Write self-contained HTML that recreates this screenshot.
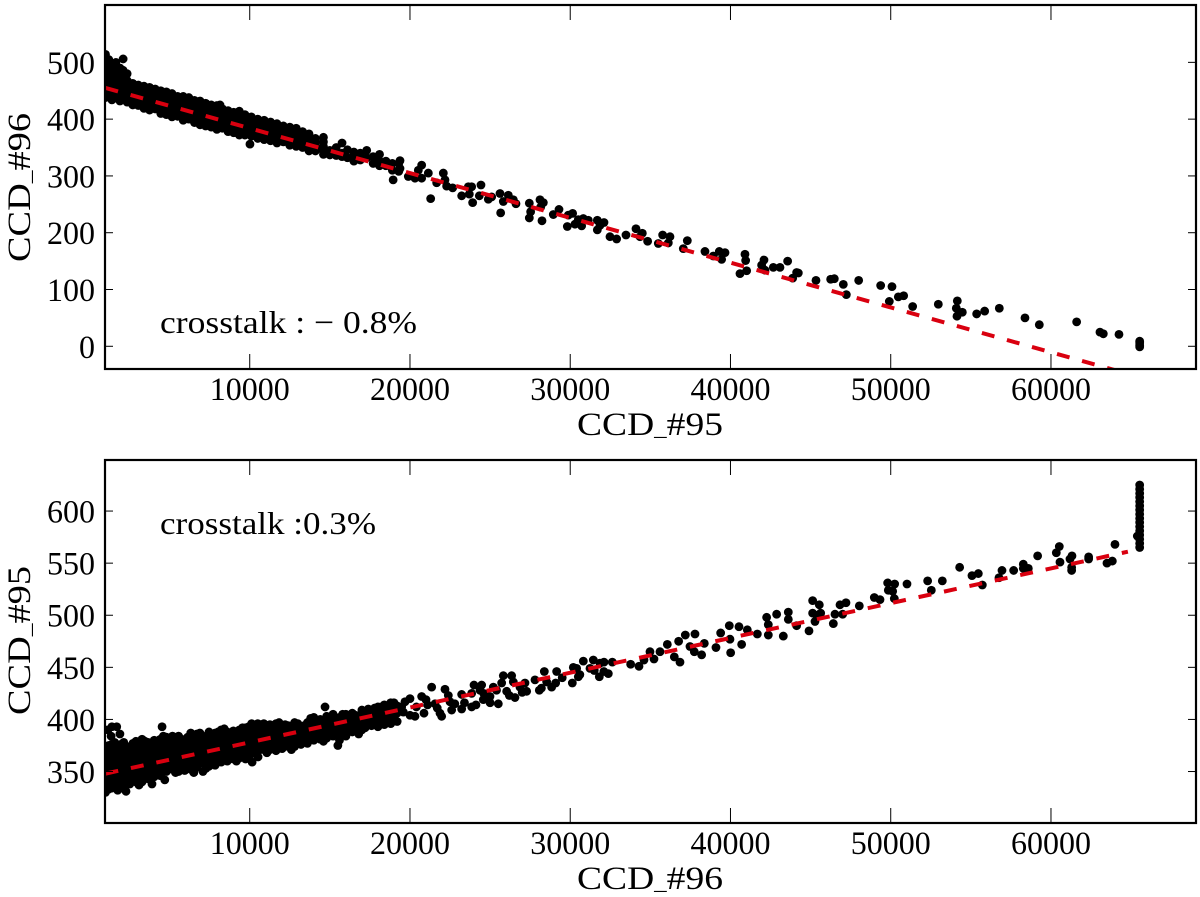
<!DOCTYPE html>
<html lang="en">
<head>
<meta charset="utf-8">
<title>CCD crosstalk</title>
<style>
html,body{margin:0;padding:0;background:#fff;}
svg{display:block;}
text{font-family:"Liberation Serif",serif;fill:#000;}
</style>
</head>
<body>
<svg id="chart" xmlns="http://www.w3.org/2000/svg" width="1200" height="897" viewBox="0 0 1200 897">
<defs>
<clipPath id="clip-top"><rect x="105" y="5" width="1091" height="364"/></clipPath>
<clipPath id="clip-bottom"><rect x="105" y="460" width="1091" height="363"/></clipPath>
</defs>
<g id="panel-top"></g>
<g id="panel-bottom"></g>
<text x="577" y="435" font-size="33" textLength="146" lengthAdjust="spacingAndGlyphs">CCD<tspan font-size="22">_</tspan>#95</text>
<text transform="translate(30,262) rotate(-90)" font-size="33" textLength="149" lengthAdjust="spacingAndGlyphs">CCD<tspan font-size="22">_</tspan>#96</text>
<text x="577" y="889" font-size="33" textLength="146" lengthAdjust="spacingAndGlyphs">CCD<tspan font-size="22">_</tspan>#96</text>
<text transform="translate(30,715) rotate(-90)" font-size="33" textLength="149" lengthAdjust="spacingAndGlyphs">CCD<tspan font-size="22">_</tspan>#95</text>
<text x="160" y="333" font-size="32" textLength="257" lengthAdjust="spacingAndGlyphs">crosstalk : − 0.8%</text>
<text x="160" y="534" font-size="32" textLength="216" lengthAdjust="spacingAndGlyphs">crosstalk :0.3%</text>
</svg>
<script>
const xTicks = [10000, 20000, 30000, 40000, 50000, 60000];
const topYTicks = [0, 100, 200, 300, 400, 500];
const bottomYTicks = [350, 400, 450, 500, 550, 600];

const topFitX = [1000, 65000];
const topFitY = [455, -50];
const bottomFitX = [1000, 64800];
const bottomFitY = [348, 561];

const topX = [
1000,1000,1000,1000,1000,1000,1000,
1200,1200,1200,1200,1200,1200,
1400,1400,1400,1400,1400,1400,
1650,1650,1650,1650,1650,1650,
1900,1900,1900,1900,1900,1900,
2100,2100,2100,2100,2100,2100,
2350,2350,2350,2350,2350,
2700,2700,2700,3050,3050,3050,3400,3400,3400,
3750,3750,3750,4100,4100,4100,4450,4450,4450,
4800,4800,4800,5150,5150,5150,5500,5500,5500,
5850,5850,5850,6200,6200,6200,6550,6550,6550,
6900,6900,6900,7250,7250,7250,7600,7600,7600,
7950,7950,7950,8300,8300,8300,8650,8650,8650,
9000,9000,9000,9350,9350,9350,9700,9700,9700,
10015,8145,
10100,10100,10100,10500,10500,10500,10900,10900,10900,
11300,11300,11300,11700,11700,11700,12100,12100,12100,
12500,12500,12500,12900,12900,12900,13300,13300,13300,
13700,13700,13700,14100,14100,14100,14600,14600,14600,
15000,15000,15400,15400,15760,15760,15760,16100,16100,
16500,16500,16500,16900,16900,17300,17300,17700,17700,
18100,18100,18100,18500,18500,18900,18900,19300,19300,18950,
19377,19377,19897,20313,20521,20729,20729,21145,21291,21665,
22081,22185,22289,22663,23225,23641,23703,23911,23849,24327,
24431,24889,25097,25659,25617,25825,26137,26449,26615,27447,
27447,27530,28113,28321,28238,28155,28945,29299,29881,30151,
29819,30297,30713,30817,30505,31129,31691,31691,31857,32107,
32481,32897,33479,34103,34353,34499,34831,35497,35767,36121,
36225,37057,37307,38409,38929,39303,39657,39449,40905,40947,
40593,41009,42091,41945,42153,42673,43089,43567,44129,43881,
44234,45336,46252,46480,47042,47229,48000,49372,50079,49912,
50474,50807,51368,52970,54156,54093,54468,54135,55362,55861,
56776,58378,59272,61602,63058,63266,64244,65535,65535,65535,65535,
2700,2700,3050,3050,3400,3400,3750,3750,4100,4100,
4450,4450,4800,4800,5150,5150,5500,5500,5850,5850,
6200,6200,6550,6550,6900,6900,7250,7250,7600,7600,
7950,7950,8300,8300,8650,8650,9000,9000,9350,9350,
9700,9700,10100,10100,10500,10500,10900,10900,11300,11300,
11700,11700,12100,12100,12500,12500,12900,12900,13300,13300,
13700,13700,14100,14100,14600,14600
];
const topY = [
514,500,488,475,462,450,438,
505,492,478,465,452,440,
497,484,470,458,445,434,
500,488,475,462,450,437,
490,478,465,452,440,432,
506,486,472,460,448,436,
480,468,455,442,430,
463,445,425,460,442,424,458,438,419,
456,436,416,453,434,418,450,428,410,
448,426,408,445,424,404,440,420,405,
440,418,398,438,416,400,433,412,394,
432,410,390,428,408,388,425,404,386,
424,402,382,418,398,384,415,396,378,
412,394,376,414,390,372,408,388,372,
356,425,
404,385,370,400,382,366,398,380,364,
395,378,362,392,375,358,388,372,360,
386,368,354,384,366,352,378,362,350,
374,356,344,366,352,344,368,352,338,
345,337,350,336,358,340,334,346,332,
342,336,326,340,328,345,332,334,322,
338,326,318,326,318,322,310,322,308,293,
327,313,299,296,310,319,296,305,260,288,
305,293,282,279,265,281,268,253,281,265,
284,259,263,235,269,255,266,258,251,226,
252,237,258,253,221,245,232,241,231,234,
211,215,212,225,223,222,222,205,213,218,
193,189,196,207,193,199,185,181,196,182,
193,172,186,167,159,167,165,153,162,151,
128,133,152,143,134,139,139,150,130,120,
129,116,118,119,109,91,116,107,105,79,
87,89,70,74,80,67,60,53,57,62,
67,50,38,43,25,22,21,9,6,2,-1,
454,434,451,433,448,428,446,426,443,426,
439,419,437,417,434,414,430,412,429,408,
427,408,422,403,421,400,418,398,414,395,
413,392,408,391,405,387,403,385,402,381,
398,380,394,377,391,374,389,372,386,370,
383,366,380,366,377,361,375,359,370,356,
365,350,359,348,360,345
];

const bottomX = [
1000,1000,1000,1000,1000,1000,1000,
1380,1380,1380,1380,1380,1380,1380,
1760,1760,1760,1760,1760,1760,1760,
2140,2140,2140,2140,2140,2140,2140,
2520,2520,2520,2520,2520,2520,
2900,2900,2900,2900,2900,2900,2900,
3280,3280,3280,3280,3280,3280,3280,
3660,3660,3660,3660,3660,3660,
4040,4040,4040,4040,4040,4040,
4420,4420,4420,4420,4420,4420,
4800,4800,4800,4800,4800,4800,
5180,5180,5180,5180,5180,5180,
5560,5560,5560,5560,5560,5560,
5940,5940,5940,5940,5940,
6320,6320,6320,6320,6320,6320,
6700,6700,6700,6700,6700,6700,
7080,7080,7080,7080,7080,7080,
7460,7460,7460,7460,7460,7460,
7840,7840,7840,7840,7840,7840,
8220,8220,8220,8220,8220,8220,
8600,8600,8600,8600,8600,
8980,8980,8980,8980,8980,
9360,9360,9360,9360,9360,
9740,9740,9740,9740,9740,9740,
10120,10120,10120,10120,10120,
10500,10500,10500,10500,10500,
10880,10880,10880,10880,10880,
11260,11260,11260,11260,11260,
11640,11640,11640,11640,11640,
12020,12020,12020,12020,
12400,12400,12400,12400,
12800,12800,12800,12800,
13200,13200,13200,
13600,13600,13600,13600,
14000,14000,14000,14000,
14400,14400,14400,14400,
14800,14800,14800,14800,
15200,15200,15200,15200,
15600,15600,15600,15600,
16000,16000,16000,16000,
16400,16400,16400,16400,
16800,16800,16800,
17200,17200,17200,
17600,17600,17600,
18000,18000,18000,18000,
18400,18400,18400,18400,
18800,18800,18800,18800,
19200,19200,19200,
1150,1400,1700,1350,1900,4530,14700,10150,10520,15500,3900,2280,4700,
19481,19689,20001,19585,20001,20313,20729,20999,20875,21353,
21561,21873,21977,22185,22393,22497,22601,23225,23225,23849,
24119,23995,23849,24369,24473,24577,24993,25201,25513,25825,
25721,26033,26345,26449,26553,26865,27177,27281,27801,28071,
28383,28529,28841,29153,29091,30131,30193,30505,30817,30401,
31233,31441,31857,31815,32377,32627,32107,33771,34291,34603,
34977,35227,35601,36059,36495,36849,36765,37182,37785,37473,
37743,38201,38367,39095,39387,39927,40011,40531,40697,39969,
41051,41675,42257,42881,42361,42361,43609,43609,43297,44129,
44900,45128,45128,45274,45544,45628,45378,46418,46522,46834,
47000,47208,48040,48976,49330,49808,49850,50120,50245,50224,
51015,52304,52533,53220,54301,55071,55466,55716,56756,56943,
57671,58274,58274,58586,59168,60333,60520,60562,61186,61311,
61290,61290,62351,62351,63495,63828,63994,65388,
65535,65535,65535,65535,65535,65535,65535,65535,
65535,65535,65535,65535,65535,65535,65535,65535,
1190,1190,1190,1190,1190,1190,1190,
1570,1570,1570,1570,1570,1570,1570,
1950,1950,1950,1950,1950,1950,1950,
2330,2330,2330,2330,2330,2330,
2710,2710,2710,2710,2710,2710,
3090,3090,3090,3090,3090,3090,3090,
3470,3470,3470,3470,3470,3470,
3850,3850,3850,3850,3850,
4230,4230,4230,4230,4230,
4610,4610,4610,4610,4610,4610,
4990,4990,4990,4990,4990,
5370,5370,5370,5370,5370,5370,
5750,5750,5750,5750,5750,
6130,6130,6130,6130,6130,
6510,6510,6510,6510,6510,6510,
6890,6890,6890,6890,6890,
7270,7270,7270,7270,7270,
7650,7650,7650,7650,7650,
8030,8030,8030,8030,8030,
8410,8410,8410,8410,8410,
8790,8790,8790,8790,
9170,9170,9170,9170,9170,
9550,9550,9550,9550,9550,
9930,9930,9930,9930,9930,
10310,10310,10310,10310,
10690,10690,10690,10690,
11070,11070,11070,11070,11070,
11450,11450,11450,11450,
11830,11830,11830,11830,
12210,12210,12210,12210,
12600,12600,12600,12600,
13000,13000,13000,13000,
13400,13400,13400,
13800,13800,13800,13800,
14200,14200,14200,
14600,14600,14600,14600,
15000,15000,15000,
15400,15400,15400,
15800,15800,15800,15800,
16200,16200,16200,
16600,16600,16600,
17000,17000,17000,17000,
17400,17400,17400,
17800,17800,17800,
18200,18200,18200,
18600,18600,18600,
19000,19000,19000,
20400,21100,21700,22800,23400,24600,25000,25400,26200,27000,
28200,29500,30600,31500,32100
];
const bottomY = [
330,337,344,351,358,365,372,
334,341,348,355,362,369,376,
332,339,346,353,360,367,374,
336,343,350,357,364,371,378,
338,345,352,359,366,373,
340,347,354,361,368,375,379,
340,347,354,361,368,375,381,
343,350,357,364,371,378,
345,352,359,366,373,380,
346,353,360,367,374,381,
350,357,364,371,378,383,
352,358,365,372,379,384,
350,356,363,370,377,384,
351,358,365,372,379,
352,360,367,374,381,387,
354,361,368,375,382,386,
350,358,365,372,379,384,
355,362,369,376,383,388,
356,363,370,377,384,387,
359,366,373,380,387,390,
360,367,374,381,388,
362,369,376,383,389,
363,370,377,384,390,
362,369,376,383,389,392,
367,374,381,388,396,
369,376,383,390,396,
371,378,385,392,396,
371,378,385,392,395,
370,377,384,391,396,
372,379,386,393,
374,381,388,394,
374,382,389,397,
376,384,391,
377,384,391,397,
380,387,394,402,
381,388,395,400,
382,389,396,403,
384,391,398,405,
380,388,395,402,
384,392,399,405,
388,395,402,406,
386,394,401,
392,399,407,
394,401,408,
393,400,407,412,
395,402,409,414,
396,404,411,416,
398,406,413,
390,393,393,384,386,393,412,359,364,375,338,331,342,
412,417,420,407,404,403,422,419,406,431,
415,406,403,429,423,417,409,424,410,412,
414,433,425,428,433,419,422,431,415,442,
435,427,442,436,421,431,435,427,438,428,
446,436,431,446,435,435,450,441,456,449,
449,457,454,441,444,455,455,453,451,457,
465,458,465,472,460,455,475,481,482,470,
465,462,473,469,483,490,464,489,472,477,
486,482,498,501,491,481,503,496,480,490,
485,514,502,494,510,502,500,492,501,510,
501,512,509,517,515,531,524,523,530,516,
530,533,524,533,546,538,540,529,536,543,
543,549,545,545,557,560,566,551,554,557,
546,543,556,554,550,552,568,576,
565,569,573,577,581,585,589,593,
597,601,605,609,613,617,621,625,
333,340,347,354,361,368,375,
336,343,350,357,364,371,378,
334,341,348,355,362,369,376,
339,346,353,360,367,374,
342,349,356,363,370,377,
337,344,351,358,365,372,378,
344,351,358,365,372,379,
348,355,362,369,376,
349,356,363,370,377,
350,357,364,371,378,384,
354,361,368,375,381,
349,354,361,368,375,382,
353,360,367,374,381,
355,362,369,376,383,
349,357,364,371,378,384,
358,365,372,379,387,
353,361,368,375,382,
359,366,373,380,386,
360,367,374,381,388,
363,370,377,384,391,
365,372,379,386,
360,366,373,380,387,
366,373,380,387,392,
365,372,379,386,393,
372,379,386,393,
374,381,388,395,
368,375,382,389,394,
374,381,388,393,
374,381,388,397,
376,383,390,395,
371,378,385,392,
378,386,393,396,
380,387,394,
381,388,395,401,
384,391,398,
379,385,392,399,
387,394,401,
386,393,400,
385,392,399,405,
390,397,404,
392,399,404,
390,397,404,409,
396,403,410,
398,405,411,
398,405,412,
400,407,413,
402,409,416,
412,414,411,415,416,425,416,428,423,426,
430,440,443,447,446
];

const SVG_NS = 'http://www.w3.org/2000/svg';
const xDomain = [1000, 69050];
const xRange = [105.5, 1196];
function axisX(v) {
  return xRange[0] + (v - xDomain[0]) * (xRange[1] - xRange[0]) / (xDomain[1] - xDomain[0]);
}
function makeAxisY(dMin, dMax, pxBottom, pxTop) {
  return function (v) {
    return pxBottom - (v - dMin) * (pxBottom - pxTop) / (dMax - dMin);
  };
}
function node(tag, attrs, parent) {
  const el = document.createElementNS(SVG_NS, tag);
  for (const k in attrs) el.setAttribute(k, attrs[k]);
  parent.appendChild(el);
  return el;
}

function drawPanel(parent, clipId, top, bottom, axisY, yTicks, xs, ys, fitX, fitY) {
  const left = 105, right = 1196, tickLen = 15;

  const points = node('g', {'clip-path': 'url(#' + clipId + ')'}, parent);
  
  
  const n = Math.min(xs.length, ys.length);
  for (let i = 0; i < n; i++) {
    const c = node('circle', {cx: axisX(xs[i]), cy: axisY(ys[i]), r: 4.4, fill: '#000'}, points);
    
    
  }

  const fit = node('line', {
    x1: axisX(fitX[0]), y1: axisY(fitY[0]), x2: axisX(fitX[1]), y2: axisY(fitY[1]),
    stroke: '#d9000f', 'stroke-width': 4, 'stroke-dasharray': '13 13',
    'clip-path': 'url(#' + clipId + ')'
  }, parent);
  
  

  xTicks.forEach(function (t) {
    const px = axisX(t);
    const a = node('line', {x1: px, x2: px, y1: bottom, y2: bottom - tickLen, stroke: '#000', 'stroke-width': 1}, parent);
    
    
    const b = node('line', {x1: px, x2: px, y1: top, y2: top + tickLen, stroke: '#000', 'stroke-width': 1}, parent);
    
    
    const label = node('text', {
      x: px, y: bottom + 31, 'text-anchor': 'middle', 'font-size': 33,
      textLength: 80, lengthAdjust: 'spacingAndGlyphs'
    }, parent);
    
    
    label.textContent = String(t);
  });

  yTicks.forEach(function (t) {
    const py = axisY(t);
    const a = node('line', {x1: left, x2: left + 8, y1: py, y2: py, stroke: '#000', 'stroke-width': 1}, parent);
    
    
    const b = node('line', {x1: right, x2: right - 8, y1: py, y2: py, stroke: '#000', 'stroke-width': 1}, parent);
    
    
    const s = String(t);
    const label = node('text', {
      x: 95, y: py + 11.5, 'text-anchor': 'end', 'font-size': 33,
      textLength: s.length * 16, lengthAdjust: 'spacingAndGlyphs'
    }, parent);
    
    
    label.textContent = s;
  });

  const frame = node('rect', {
    x: left, y: top, width: right - left, height: bottom - top,
    fill: 'none', stroke: '#000', 'stroke-width': 2.2
  }, parent);
  
  
}

drawPanel(document.getElementById('panel-top'), 'clip-top', 5, 369,
  makeAxisY(-40, 601, 369, 5), topYTicks, topX, topY, topFitX, topFitY);
drawPanel(document.getElementById('panel-bottom'), 'clip-bottom', 460, 823,
  makeAxisY(300.6, 649, 823, 460), bottomYTicks, bottomX, bottomY, bottomFitX, bottomFitY);
</script>
</body>
</html>
